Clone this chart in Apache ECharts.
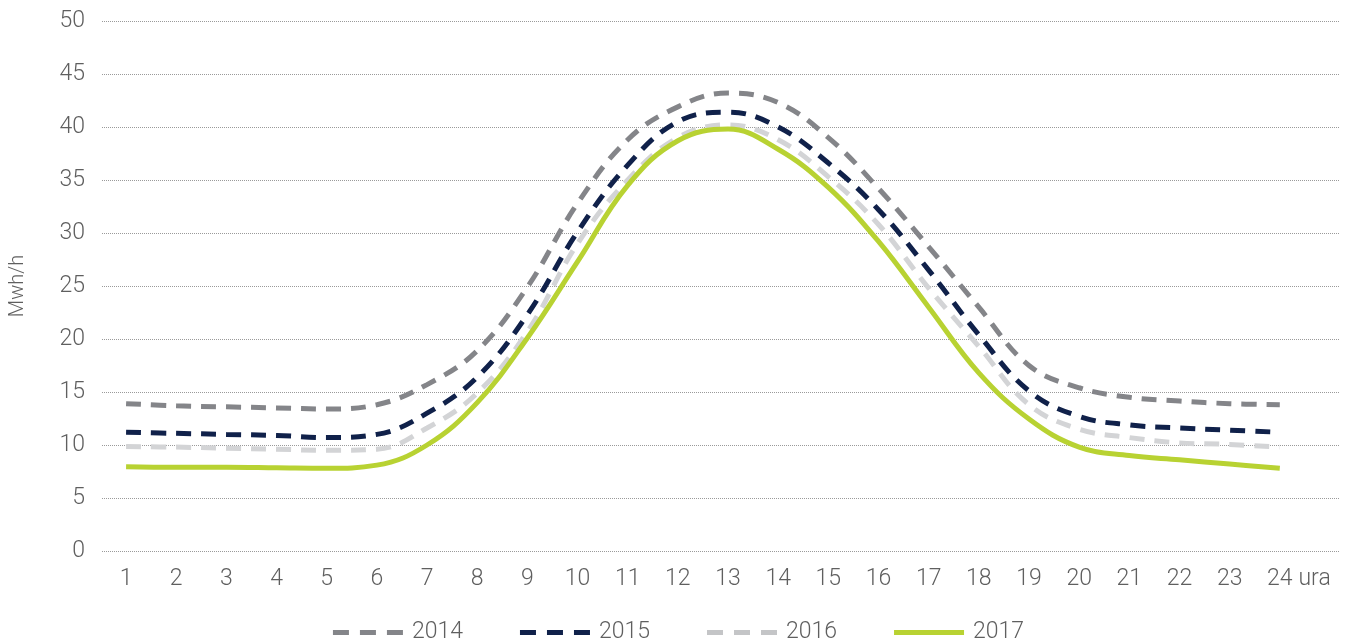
<!DOCTYPE html>
<html>
<head>
<meta charset="utf-8">
<script src="https://cdn.jsdelivr.net/npm/echarts@6/dist/echarts.min.js"></script>
<style>
html,body{margin:0;padding:0;background:#fff;}
#chart{width:1357px;height:643px;}
</style>
</head>
<body>
<div id="chart"></div>
<script>
var hours = [1,2,3,4,5,6,7,8,9,10,11,12,13,14,15,16,17,18,19,20,21,22,23,24];
var yTicks = [0,5,10,15,20,25,30,35,40,45,50];
var seriesNames = ['2014','2015','2016','2017'];
var v2014 = [13.9,13.7,13.6,13.5,13.4,13.8,15.7,18.9,24.9,32.8,38.8,41.9,43.2,42.3,39.0,34.2,28.7,23.0,17.5,15.4,14.5,14.15,13.9,13.8];
var v2015 = [11.2,11.1,11.0,10.9,10.7,11.0,13.0,16.4,22.3,30.1,36.4,40.5,41.4,40.0,36.6,32.2,26.5,20.4,15.1,12.7,11.9,11.6,11.4,11.2];
var v2016 = [9.85,9.8,9.7,9.6,9.5,9.6,11.6,14.9,20.7,29.0,35.0,39.0,40.2,38.8,35.3,30.8,24.8,19.3,13.8,11.5,10.7,10.2,10.05,9.8];
var v2017 = [7.95,7.9,7.9,7.85,7.8,8.1,10.0,14.0,20.1,27.3,34.5,38.7,39.8,37.9,34.3,29.2,23.0,16.8,12.45,9.8,9.0,8.6,8.2,7.8];

function pairs(vals){ return hours.map(function(h,i){ return [h, vals[i]]; }); }

var txt = '#5f5f5f';
var font = 'Roboto';
var dashIcon = 'path://M0,0h16v5h-16z M27,0h16v5h-16z M54,0h16v5h-16z';
var solidIcon = 'path://M0,0h70v5h-70z';
var chart = echarts.init(document.getElementById('chart'), null, {renderer:'canvas'});
var dashed = [15,10];
chart.setOption({
  animation:false,
  backgroundColor:'#ffffff',
  grid:{left:102,right:17,top:21,bottom:92,containLabel:false},
  xAxis:{
    type:'value', min:0.52, max:25.2,
    name:'ura', nameLocation:'end', nameGap:-16,
    nameTextStyle:{color:txt,fontSize:23,fontFamily:font,fontWeight:300,align:'right',verticalAlign:'top',padding:[17,0,0,0]},
    axisLine:{show:false}, axisTick:{show:false}, splitLine:{show:false},
    axisLabel:{customValues:hours, color:txt, fontSize:23, fontFamily:font, fontWeight:300, margin:17,
      formatter:function(v){ return String(v); }}
  },
  yAxis:{
    type:'value', min:yTicks[0], max:yTicks[yTicks.length-1], interval:5,
    name:'Mwh/h', nameLocation:'middle', nameGap:74, nameRotate:90,
    nameTextStyle:{color:txt,fontSize:20,fontFamily:font,fontWeight:300},
    axisLine:{show:false}, axisTick:{show:false},
    axisLabel:{color:txt,fontSize:23,fontFamily:font,fontWeight:300,margin:17},
    splitLine:{show:true,lineStyle:{color:'#9a9a9a',type:'dotted',width:1}}
  },
  legend:{
    top:616, left:'center', itemWidth:70, itemHeight:5, itemGap:57,
    textStyle:{color:txt,fontSize:23,fontFamily:font,fontWeight:300,padding:[0,0,0,4]},
    data:[
      {name:seriesNames[0],icon:dashIcon},
      {name:seriesNames[1],icon:dashIcon},
      {name:seriesNames[2],icon:dashIcon},
      {name:seriesNames[3],icon:solidIcon}
    ]
  },
  series:[
    {name:seriesNames[0],type:'line',data:pairs(v2014),smooth:0.4,symbol:'none',
     lineStyle:{color:'#848589',width:5,type:dashed},itemStyle:{color:'#848589'}},
    {name:seriesNames[1],type:'line',data:pairs(v2015),smooth:0.4,symbol:'none',
     lineStyle:{color:'#10214a',width:5,type:dashed},itemStyle:{color:'#10214a'}},
    {name:seriesNames[2],type:'line',data:pairs(v2016),smooth:0.4,symbol:'none',
     lineStyle:{color:'#d3d4d6',width:5,type:dashed},itemStyle:{color:'#c4c5c7'}},
    {name:seriesNames[3],type:'line',data:pairs(v2017),smooth:0.4,symbol:'none',
     lineStyle:{color:'#b8d232',width:5},itemStyle:{color:'#b8d232'}}
  ]
});
</script>
</body>
</html>
